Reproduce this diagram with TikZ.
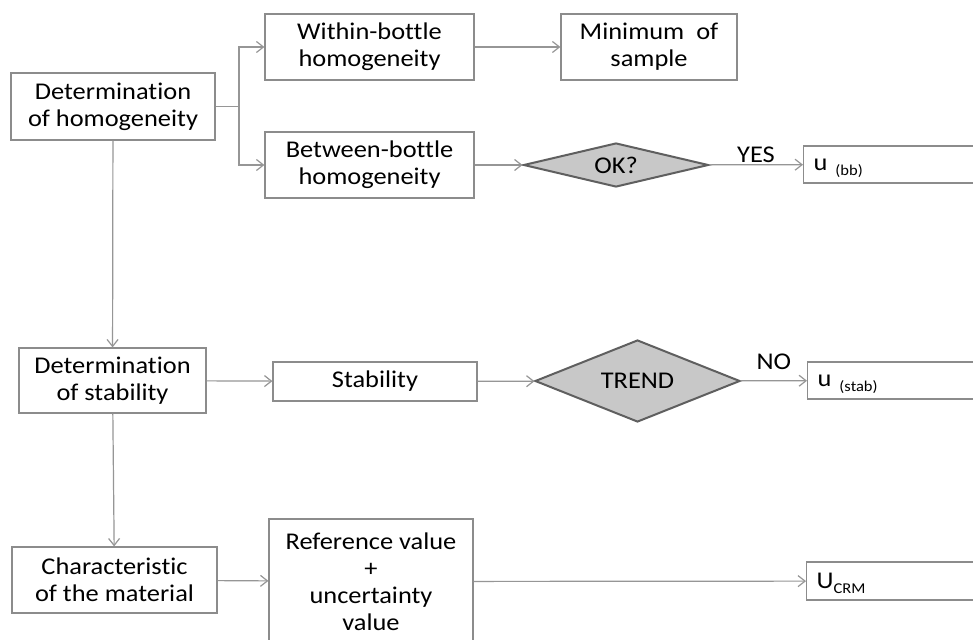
\documentclass[tikz,border=0pt]{standalone}
\usepackage{fontspec}
\setmainfont[FakeStretch=1.1,Ligatures=NoCommon]{Carlito}
\usetikzlibrary{arrows,arrows.meta,shapes}
\definecolor{boxline}{RGB}{140,140,140}
\definecolor{arrowline}{RGB}{150,150,150}
\definecolor{testline}{RGB}{95,95,95}
\definecolor{testfill}{RGB}{200,200,200}
\tikzstyle{box}=[rectangle,draw=boxline,line width=1.2pt,fill=white,align=center,inner sep=0pt]
\tikzstyle{test}=[diamond,draw=testline,fill=testfill,line width=2pt,inner sep=0pt,aspect=4]
\tikzstyle{result}=[rectangle,draw=boxline,line width=1.2pt,fill=white,anchor=west,text width=240pt,inner xsep=10pt,inner ysep=0pt,align=left]
\tikzstyle{edge} = [draw=arrowline,line width=1.2pt,-{Straight Barb[length=7pt,width=11pt]}]
\tikzstyle{weight} = [inner sep=2pt]
\newcommand{\subtxt}[1]{\raisebox{-5pt}[0pt][0pt]{\fontsize{15}{15}\selectfont #1}}

\begin{document}
\begin{tikzpicture}[x=1pt,y=-1pt,font=\fontsize{24}{27}\selectfont]

    \clip (0,0) rectangle (973,639);
    \fill[white] (0,0) rectangle (973,639);

    % left column and middle boxes
    \foreach \x/\y/\w/\h/\name/\txt in {
        113/106.5/204/67/hom/{Determination\\of homogeneity},
        369.5/47/209/66/within/{Within-bottle\\homogeneity},
        649/47/176/66/minsample/{Minimum~ of\\sample},
        369.5/165/209/66/between/{Between-bottle\\homogeneity},
        112.5/380.5/187/65/detstab/{Determination\\of stability},
        375/381.5/204/39/stab/{Stability},
        114.5/580/205/66/charac/{Characteristic\\of the material},
        371/581.5/204/125/refval/{Reference value\\+\\uncertainty\\value}}
        \node[box, minimum width=\w, minimum height=\h] (\name) at (\x,\y) {\txt};

    % decisions
    \node[test, minimum width=185, minimum height=44] (ok) at (616,165) {OK?};
    \node[test, minimum width=205, minimum height=82] (trend) at (637.5,381) {TREND};

    % results, running off the right edge
    \node[result, minimum height=37] (ubb) at (803,164.5) {u \subtxt{(bb)}};
    \node[result, minimum height=37] (ustab) at (807,380.5) {u \subtxt{(stab)}};
    \node[result, minimum height=38] (ucrm) at (806,581) {U\subtxt{CRM}};

    \coordinate (fork) at (239,106.5);
    \draw[draw=arrowline, line width=1.2pt] (hom.east) -- (fork);
    \path[edge] (fork) |- (within.west);
    \path[edge] (fork) |- (between.west);

    \foreach \source/ \dest in {within/minsample, between/ok, hom/detstab, detstab/charac, detstab/stab, stab/trend, charac/refval, refval/ucrm}
        \path[edge] (\source) -- (\dest);

    \path[edge] (ok) -- node[weight, above] {YES} (ubb);
    \path[edge] (trend) -- node[weight, above, yshift=9pt] {NO} (ustab);

\end{tikzpicture}
\end{document}
